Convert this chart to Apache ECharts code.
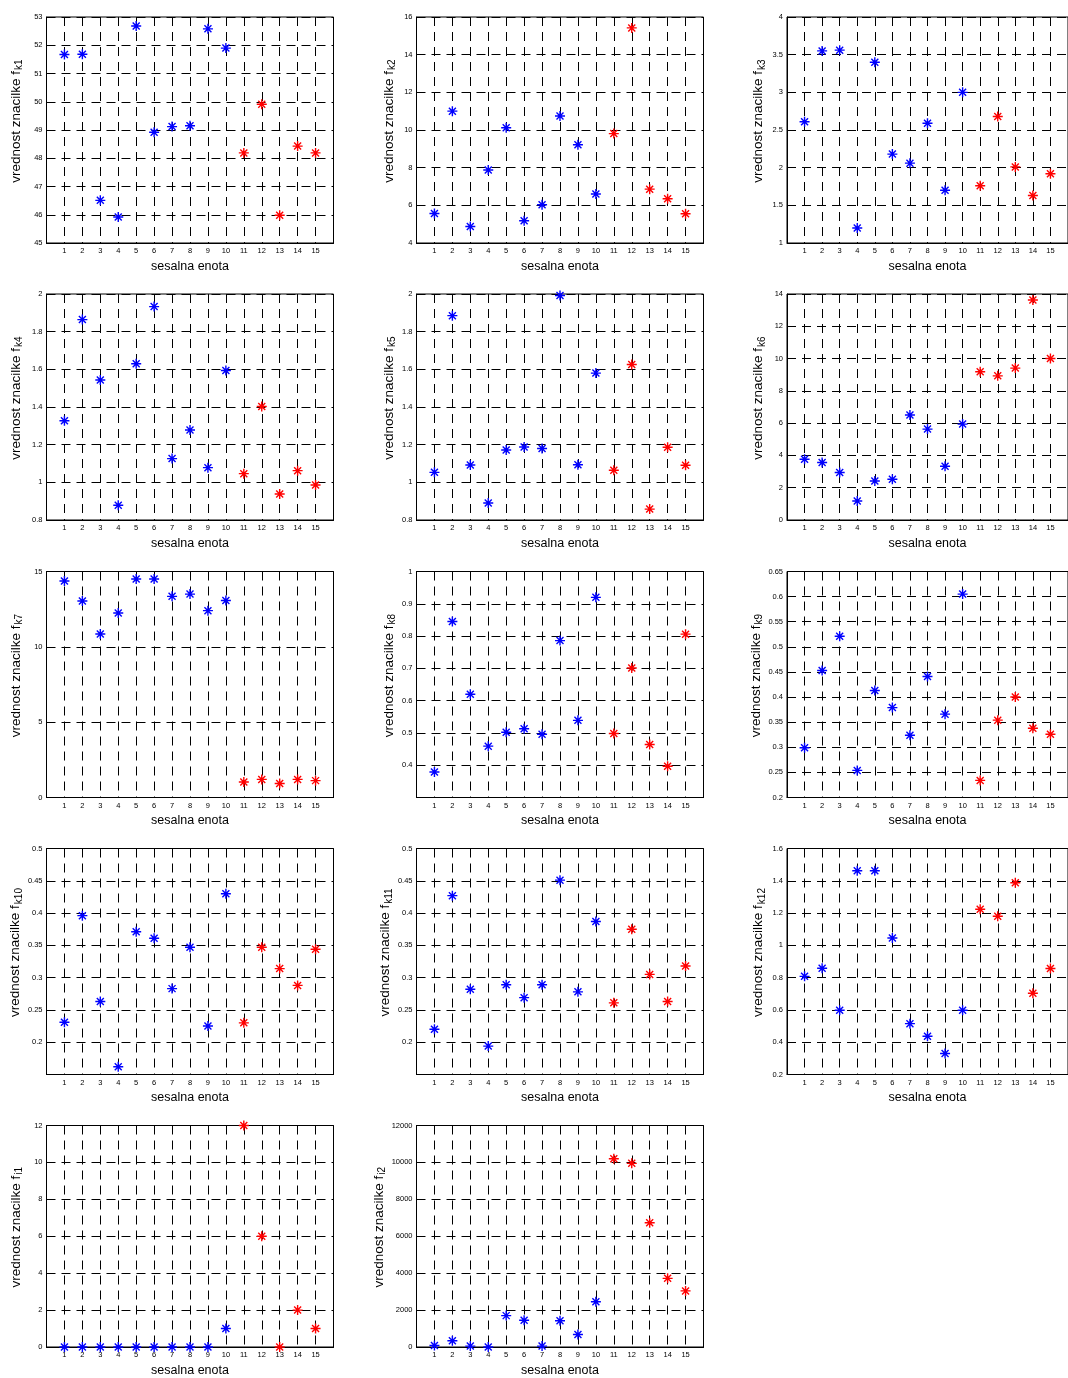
<!DOCTYPE html>
<html><head><meta charset="utf-8">
<script src="https://cdn.jsdelivr.net/npm/echarts/dist/echarts.min.js"></script>
<style>html,body{margin:0;padding:0;background:#fff}#c{width:1068px;height:1378px}</style>
</head><body><div id="c"></div>
<script>
// ---- data ----
const units = [1,2,3,4,5,6,7,8,9,10,11,12,13,14,15];
const group = [0,0,0,0,0,0,0,0,0,0,1,1,1,1,1]; // 0 = blue, 1 = red
const xTicks = [1,2,3,4,5,6,7,8,9,10,11,12,13,14,15];

const fk1  = [51.67,51.68,46.51,45.92,52.68,48.92,49.12,49.15,52.58,51.90,48.19,49.91,45.98,48.43,48.19];
const fk2  = [5.57,11.00,4.88,7.88,10.12,5.18,6.03,10.74,9.22,6.60,9.81,15.42,6.86,6.35,5.55];
const fk3  = [2.61,3.55,3.56,1.20,3.40,2.18,2.06,2.59,1.70,3.00,1.76,2.68,2.01,1.63,1.92];
const fk4  = [1.327,1.864,1.543,0.878,1.630,1.933,1.126,1.278,1.078,1.594,1.046,1.403,0.938,1.062,0.986];
const fk5  = [1.053,1.885,1.092,0.890,1.172,1.188,1.180,1.992,1.093,1.580,1.064,1.626,0.858,1.186,1.091];
const fk6  = [3.76,3.56,2.94,1.18,2.42,2.52,6.50,5.63,3.33,5.94,9.18,8.93,9.41,13.63,10.00];
const fk7  = [14.37,13.04,10.85,12.25,14.50,14.50,13.35,13.50,12.40,13.08,1.03,1.20,0.93,1.20,1.12];
const fk8  = [0.379,0.845,0.620,0.459,0.502,0.513,0.496,0.786,0.539,0.920,0.498,0.701,0.464,0.397,0.806];
const fk9  = [0.299,0.453,0.521,0.254,0.413,0.379,0.324,0.441,0.366,0.605,0.234,0.354,0.400,0.338,0.326];
const fk10 = [0.231,0.396,0.263,0.162,0.371,0.361,0.283,0.347,0.225,0.430,0.230,0.347,0.314,0.288,0.344];
const fk11 = [0.220,0.427,0.282,0.194,0.289,0.269,0.289,0.451,0.278,0.387,0.261,0.375,0.305,0.263,0.318];
const fk12 = [0.808,0.858,0.598,1.462,1.462,1.046,0.515,0.437,0.330,0.598,1.224,1.180,1.388,0.703,0.857];
const fi1  = [0,0,0,0,0,0,0,0,0,1,12,6,0,2,1];
const fi2  = [80,340,50,0,1700,1450,50,1420,680,2450,10200,9950,6730,3720,3040];

// y axis ranges [min, max, step] and subscript names
const panels = [
  {sub:'k1',  data:fk1,  y:[45,53,1]},
  {sub:'k2',  data:fk2,  y:[4,16,2]},
  {sub:'k3',  data:fk3,  y:[1,4,0.5]},
  {sub:'k4',  data:fk4,  y:[0.8,2,0.2]},
  {sub:'k5',  data:fk5,  y:[0.8,2,0.2]},
  {sub:'k6',  data:fk6,  y:[0,14,2]},
  {sub:'k7',  data:fk7,  y:[0,15,5]},
  {sub:'k8',  data:fk8,  y:[0.3,1,0.1], hideMin:true},
  {sub:'k9',  data:fk9,  y:[0.2,0.65,0.05]},
  {sub:'k10', data:fk10, y:[0.15,0.5,0.05], hideMin:true},
  {sub:'k11', data:fk11, y:[0.15,0.5,0.05], hideMin:true},
  {sub:'k12', data:fk12, y:[0.2,1.6,0.2]},
  {sub:'i1',  data:fi1,  y:[0,12,2]},
  {sub:'i2',  data:fi2,  y:[0,12000,2000]}
];

// ---- layout / style ----
const FONT = 'Liberation Sans, Arial, Helvetica, sans-serif';
const colLeft = [46.5, 416.5, 787];
const rowTop = [17, 294, 571.5, 848.5, 1125.5];
const colNameGap = [22, 19, 20];
const extraNameGap = {i2: 7};
const W = 287, H = 226;
const colors = ['#0000ff', '#ff0000'];
const star = 'path://M5,0L5,10M0,5L10,5M1.5,1.5L8.5,8.5M8.5,1.5L1.5,8.5';
const gridLine = {show:true, lineStyle:{color:'#000', width:1, type:[9,6]}};
const fmt = v => String(parseFloat(Number(v).toPrecision(10)));

const chart = echarts.init(document.getElementById('c'), null, {renderer:'canvas'});
const grids = [], xAxes = [], yAxes = [], series = [];
panels.forEach((p, i) => {
  const r = Math.floor(i / 3), c = i % 3;
  grids.push({left: colLeft[c], top: rowTop[r], width: W, height: H,
    show: true, borderColor: '#000', borderWidth: 1, backgroundColor: '#fff'});
  xAxes.push({
    gridIndex: i, type: 'value', min: 0, max: xTicks.length + 1, interval: 1,
    name: 'sesalna enota', nameLocation: 'middle', nameGap: 17,
    nameTextStyle: {fontSize: 12.5, color: '#000', fontFamily: FONT},
    axisLine: {show: true, onZero: false, lineStyle: {color: '#000', width: 1}},
    axisTick: {show: false},
    axisLabel: {fontSize: 7.5, color: '#000', margin: 4, fontFamily: FONT,
      showMinLabel: false, showMaxLabel: false,
      formatter: v => (xTicks.indexOf(v) >= 0 ? String(v) : '')},
    splitLine: gridLine
  });
  yAxes.push({
    gridIndex: i, type: 'value', min: p.y[0], max: p.y[1], interval: p.y[2],
    name: '{a|vrednost znacilke f}{b|' + p.sub + '}',
    nameLocation: 'middle', nameGap: colNameGap[c] + (extraNameGap[p.sub] || 0), nameRotate: 90,
    nameTextStyle: {color: '#000', fontFamily: FONT, padding: [0, 0, 0, 18],
      rich: {a: {fontSize: 13.5, fontFamily: FONT, color: '#000'},
             b: {fontSize: 10, fontFamily: FONT, color: '#000', padding: [7, 0, 0, 1]}}},
    axisLine: {show: true, onZero: false, lineStyle: {color: '#000', width: 1}},
    axisTick: {show: false},
    axisLabel: {fontSize: 7.5, color: '#000', margin: 4, fontFamily: FONT,
      showMinLabel: !p.hideMin, showMaxLabel: true, formatter: fmt},
    splitLine: gridLine
  });
  [0, 1].forEach(g => {
    series.push({
      type: 'scatter', xAxisIndex: i, yAxisIndex: i,
      symbol: star, symbolSize: 10,
      itemStyle: {color: 'rgba(0,0,0,0)', borderColor: colors[g], borderWidth: 1.4, opacity: 1},
      emphasis: {disabled: true},
      data: units.map((u, k) => [u, p.data[k], group[k]]).filter(d => d[2] === g).map(d => [d[0], d[1]])
    });
  });
});

chart.setOption({
  animation: false,
  backgroundColor: '#fff',
  grid: grids, xAxis: xAxes, yAxis: yAxes, series: series
});
</script></body></html>
